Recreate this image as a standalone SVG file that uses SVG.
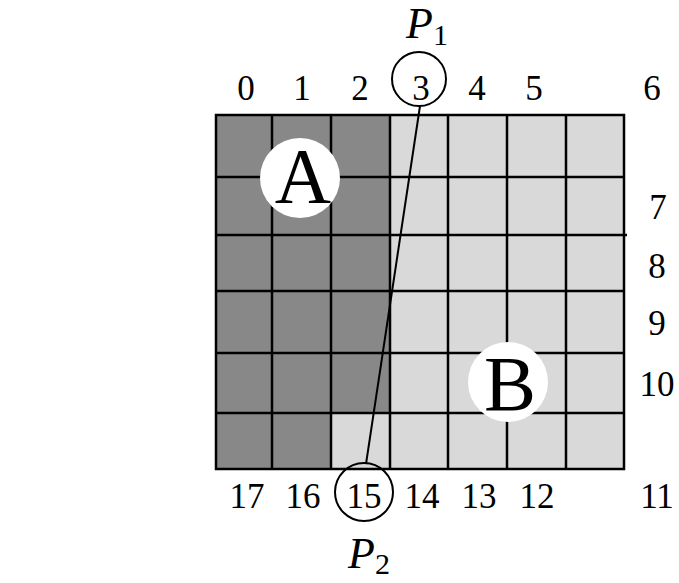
<svg xmlns="http://www.w3.org/2000/svg" width="679" height="583" viewBox="0 0 679 583">
<style>
.num{font-family:"Liberation Serif","Times New Roman",serif;font-size:35px;fill:#000;text-anchor:middle}
.big{font-family:"Liberation Serif","Times New Roman",serif;font-size:78px;fill:#000;text-anchor:middle}
.pl{font-family:"Liberation Serif","Times New Roman",serif;font-style:italic;font-size:44px;fill:#000}
.sub{font-style:normal;font-size:30px}
.dark{fill:#888888}
.light{fill:#d9d9d9}
.grid{stroke:#000;stroke-width:2.5;fill:none}
.ring{stroke:#000;stroke-width:2;fill:none}
.disc{fill:#fff}
</style>
<rect width="679" height="583" fill="#fff"/>
<g id="grid">
<rect class="light" x="216" y="115" width="408" height="354"/>
<rect class="dark" x="216" y="115" width="174" height="298"/>
<rect class="dark" x="216" y="413" width="115" height="56"/>
<path class="grid" d="M272 115V469M331 115V469M390 115V469M448 115V469M507 115V469M566 115V469M216 177H624M216 235H627M216 291H624M216 353H624M216 413H624"/>
<rect class="grid" x="216" y="115" width="408" height="354"/>
</g>
<g id="connectors">
<line x1="420" y1="106" x2="366" y2="464" stroke="#000" stroke-width="2"/>
</g>
<g id="region-A">
<circle class="disc" cx="300" cy="178" r="40"/>
<text class="big" x="303" y="202">A</text>
</g>
<g id="region-B">
<circle class="disc" cx="508" cy="382" r="40"/>
<text class="big" x="510" y="410">B</text>
</g>
<g id="top-labels">
<text class="num" x="246" y="100">0</text>
<text class="num" x="302" y="100">1</text>
<text class="num" x="360" y="100">2</text>
<text class="num" x="477" y="100">4</text>
<text class="num" x="534" y="100">5</text>
<text class="num" x="652" y="100">6</text>
</g>
<g id="right-labels">
<text class="num" x="658" y="219">7</text>
<text class="num" x="657" y="278">8</text>
<text class="num" x="657" y="335">9</text>
<text class="num" x="657" y="396">10</text>
</g>
<g id="bottom-labels">
<text class="num" x="247" y="508">17</text>
<text class="num" x="303" y="508">16</text>
<text class="num" x="422" y="508">14</text>
<text class="num" x="479" y="508">13</text>
<text class="num" x="537" y="508">12</text>
<text class="num" x="657" y="508">11</text>
</g>
<g id="P1">
<circle class="ring" cx="419" cy="79" r="27"/>
<text class="num" x="421" y="100">3</text>
<text class="pl" x="406" y="38">P<tspan class="sub" dy="7">1</tspan></text>
</g>
<g id="P2">
<circle class="ring" cx="364" cy="492" r="29"/>
<text class="num" x="364" y="508">15</text>
<text class="pl" x="348" y="568">P<tspan class="sub" dy="6">2</tspan></text>
</g>
</svg>
